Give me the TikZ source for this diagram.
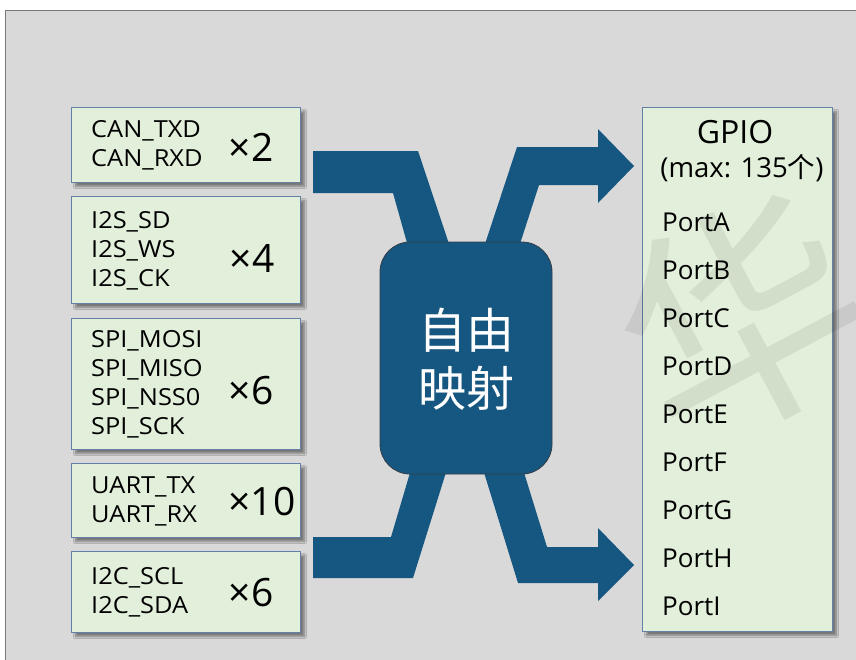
\documentclass[tikz,border=0pt]{standalone}
\usepackage{fontspec}
\setmainfont{Open Sans}
\newfontfamily\sigfont[FakeStretch=1.08]{Open Sans}
\newfontfamily\cjk{Noto Sans CJK SC}
\usetikzlibrary{shadows.blur}

\definecolor{bgGray}{RGB}{217,217,217}
\definecolor{frameGray}{RGB}{120,120,120}
\definecolor{boxGreen}{RGB}{226,239,218}
\definecolor{boxEdge}{RGB}{100,128,165}
\definecolor{flowBlue}{RGB}{21,87,128}
\definecolor{hubEdge}{RGB}{50,60,70}

\tikzset{
  sigbox/.style={draw=boxEdge, line width=0.9pt, fill=boxGreen, anchor=north west,
    inner sep=0pt, blur shadow={shadow xshift=4pt, shadow yshift=-4pt,
    shadow blur steps=6, shadow opacity=45}},
  siglines/.style={anchor=west, align=left, inner sep=0pt,
    font=\sigfont\fontsize{23.5}{29}\selectfont},
  mult/.style={inner sep=0pt, font=\fontsize{39}{44}\selectfont},
  portlabel/.style={anchor=west, inner sep=0pt, font=\fontsize{26}{30}\selectfont},
  flow/.style={fill=flowBlue, draw=none},
  hub/.style={draw=hubEdge, line width=0.8pt, fill=flowBlue, rounded corners=30pt,
    inner sep=0pt, minimum width=172pt, minimum height=232pt},
}

\begin{document}
\begin{tikzpicture}[x=1pt, y=-1pt]
\useasboundingbox (0,0) rectangle (856,659);

% canvas
\fill[white] (0,0) rectangle (856,659);
\fill[bgGray] (5,10) rectangle (870,670);
\draw[frameGray, line width=1.2pt] (5.6,670) -- (5.6,10.6) -- (870,10.6);

% thick mapping bands
\fill[flow] (313,151) -- (418,151) -- (451,250) -- (409,250) -- (393,193) -- (313,193) -- cycle;
\fill[flow] (483,250) -- (517,147) -- (598,147) -- (598,129) -- (634,166) -- (598,203)
  -- (598,185) -- (539,185) -- (518,250) -- cycle;
\fill[flow] (313,537) -- (391,537) -- (412,466) -- (448,466) -- (413,578) -- (313,578) -- cycle;
\fill[flow] (482,466) -- (522,466) -- (547,547) -- (598,547) -- (598,528) -- (634,565)
  -- (598,601) -- (598,583) -- (518,583) -- cycle;

% central mapping block
\node[hub] (hub) at (466,358) {};
\node[text=white, align=center, font=\cjk\fontsize{48}{58}\selectfont] (hubtext) at (466,359) {自由\\映射};

% peripheral signal groups
\node[sigbox, minimum width=229pt, minimum height=75pt] (can) at (71,107) {};
\node[sigbox, minimum width=229pt, minimum height=107pt] (i2s) at (71,196) {};
\node[sigbox, minimum width=229pt, minimum height=131pt] (spi) at (71,318) {};
\node[sigbox, minimum width=229pt, minimum height=74pt] (uart) at (71,463) {};
\node[sigbox, minimum width=229pt, minimum height=81pt] (i2c) at (71,551) {};

\node[siglines] (cantext) at (91,145) {CAN\_TXD\\CAN\_RXD};
\node[siglines] (i2stext) at (91,251) {I2S\_SD\\I2S\_WS\\I2S\_CK};
\node[siglines] (spitext) at (91,384) {SPI\_MOSI\\SPI\_MISO\\SPI\_NSS0\\SPI\_SCK};
\node[siglines] (uarttext) at (91,501) {UART\_TX\\UART\_RX};
\node[siglines] (i2ctext) at (91,592) {I2C\_SCL\\I2C\_SDA};

\node[mult] (canmul) at (251,147) {×2};
\node[mult] (i2smul) at (252,258) {×4};
\node[mult] (spimul) at (251,391) {×6};
\node[mult] (uartmul) at (262,502) {×10};
\node[mult] (i2cmul) at (251,593) {×6};

% GPIO block
\node[sigbox, minimum width=190pt, minimum height=524pt] (gpio) at (642,107) {};
\node[inner sep=0pt, font=\fontsize{32}{36}\selectfont] (gpiotitle) at (735,132) {GPIO};
\node[inner sep=0pt, font=\fontsize{27.5}{32}\selectfont] (gpiomax) at (742,168) {(max: 135{\cjk 个})};
\foreach \p [count=\i from 0] in {A,B,C,D,E,F,G,H,I}
  \node[portlabel] (port\p) at (662,222+48*\i) {Port\p};

% faint watermark
\begin{scope}
\clip (0,0) rectangle (856,659);
\node[rotate=28, text=black, opacity=0.07, inner sep=0pt,
  font=\cjk\fontsize{240}{240}\selectfont] (mark) at (742,318) {华};
\end{scope}
\end{tikzpicture}
\end{document}
